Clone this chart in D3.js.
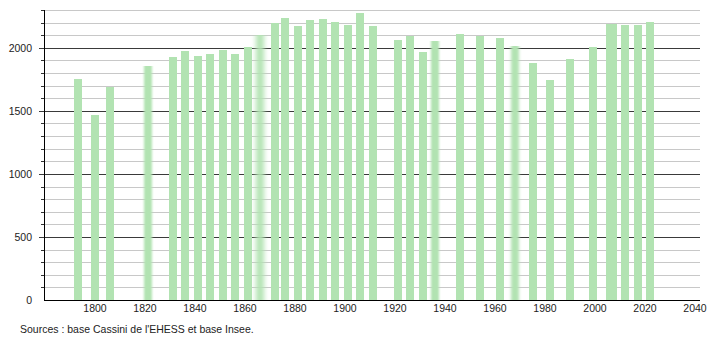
<!DOCTYPE html>
<html>
<head>
<meta charset="utf-8">
<script src="https://cdn.jsdelivr.net/npm/d3@7"></script>
<style>
  body { margin: 0; background: #fff; }
  text { font-family: "Liberation Sans", Arial, sans-serif; font-size: 10.5px; fill: #222; }
</style>
</head>
<body>
<svg id="chart"></svg>
<script>

// census years and population
var years = [1793, 1800, 1806, 1821, 1831, 1836, 1841, 1846, 1851, 1856,
             1861, 1866, 1872, 1876, 1881, 1886, 1891, 1896, 1901, 1906,
             1911, 1921, 1926, 1931, 1936, 1946, 1954, 1962, 1968, 1975,
             1982, 1990, 1999, 2006, 2007, 2012, 2017, 2022];
var population = [1752, 1468, 1693, 1857, 1929, 1976, 1938, 1952, 1984, 1952,
                  2008, 2100, 2196, 2235, 2175, 2222, 2230, 2205, 2183, 2278,
                  2175, 2066, 2090, 1968, 2058, 2111, 2090, 2079, 2016, 1881,
                  1746, 1910, 2008, 2190, 2190, 2183, 2183, 2206];
var yTicks = [0, 500, 1000, 1500, 2000];
var xTicks = [1800, 1820, 1840, 1860, 1880, 1900, 1920, 1940, 1960, 1980, 2000, 2020, 2040];
var source = "Sources : base Cassini de l'EHESS et base Insee.";

var width = 710, height = 340;

var svg = d3.select('#chart')
  .attr('width', width)
  .attr('height', height);

var x = d3.scaleLinear().domain([1779.6, 2041.6]).range([44, 699]);
var y = d3.scaleLinear().domain([0, 2300]).range([300, 10]);

// soft edged bars, like in the original picture
var blurred = { 1821: 1.3, 1866: 2.6, 1936: 1.3, 1968: 1.4 };
var defs = svg.append('defs');
Object.keys(blurred).forEach(function (k) {
  defs.append('filter')
    .attr('id', 'blur' + k)
    .attr('x', '-100%').attr('width', '300%')
    .append('feGaussianBlur')
    .attr('stdDeviation', blurred[k] + ' 0');
});

function py(v) { return Math.round(y(v)) + 0.5; }

// grid every 100, darker every 500
var grid = d3.range(100, 2301, 100);
svg.append('g').selectAll('line')
  .data(grid)
  .enter().append('line')
  .attr('x1', function (d) { return d % 500 ? 41 : 39; })
  .attr('x2', 700)
  .attr('y1', py)
  .attr('y2', py)
  .style('stroke', function (d) { return d % 500 ? '#c8c8c8' : '#3a3a3a'; })
  .style('stroke-width', 1);

// small ticks on the axis for the minor lines
svg.append('g').selectAll('line')
  .data(grid.filter(function (d) { return d % 500; }))
  .enter().append('line')
  .attr('x1', 41).attr('x2', 44)
  .attr('y1', py).attr('y2', py)
  .style('stroke', '#333');

// bars
var bw = 8;
svg.append('g').selectAll('rect')
  .data(years)
  .enter().append('rect')
  .attr('x', function (d) { return Math.round(x(d) - bw / 2); })
  .attr('width', bw)
  .attr('y', function (d, i) { return Math.round(y(population[i])); })
  .attr('height', function (d, i) { return 300 - Math.round(y(population[i])); })
  .style('fill', '#b2e3b2')
  .attr('filter', function (d) { return blurred[d] ? 'url(#blur' + d + ')' : null; });

// axes
svg.append('line')
  .attr('x1', 44).attr('x2', 700)
  .attr('y1', 300.5).attr('y2', 300.5)
  .style('stroke', '#000');
svg.append('line')
  .attr('x1', 44.5).attr('x2', 44.5)
  .attr('y1', 10).attr('y2', 301)
  .style('stroke', '#000');

svg.append('g').selectAll('text')
  .data(yTicks)
  .enter().append('text')
  .attr('x', 32)
  .attr('y', function (d) { return y(d); })
  .attr('dy', '0.35em')
  .attr('text-anchor', 'end')
  .text(function (d) { return d; });

svg.append('g').selectAll('text')
  .data(xTicks)
  .enter().append('text')
  .attr('x', function (d) { return x(d); })
  .attr('y', 312)
  .attr('text-anchor', 'middle')
  .text(function (d) { return d; });

svg.append('text')
  .attr('x', 20)
  .attr('y', 333)
  .text(source);

</script>
</body>
</html>
